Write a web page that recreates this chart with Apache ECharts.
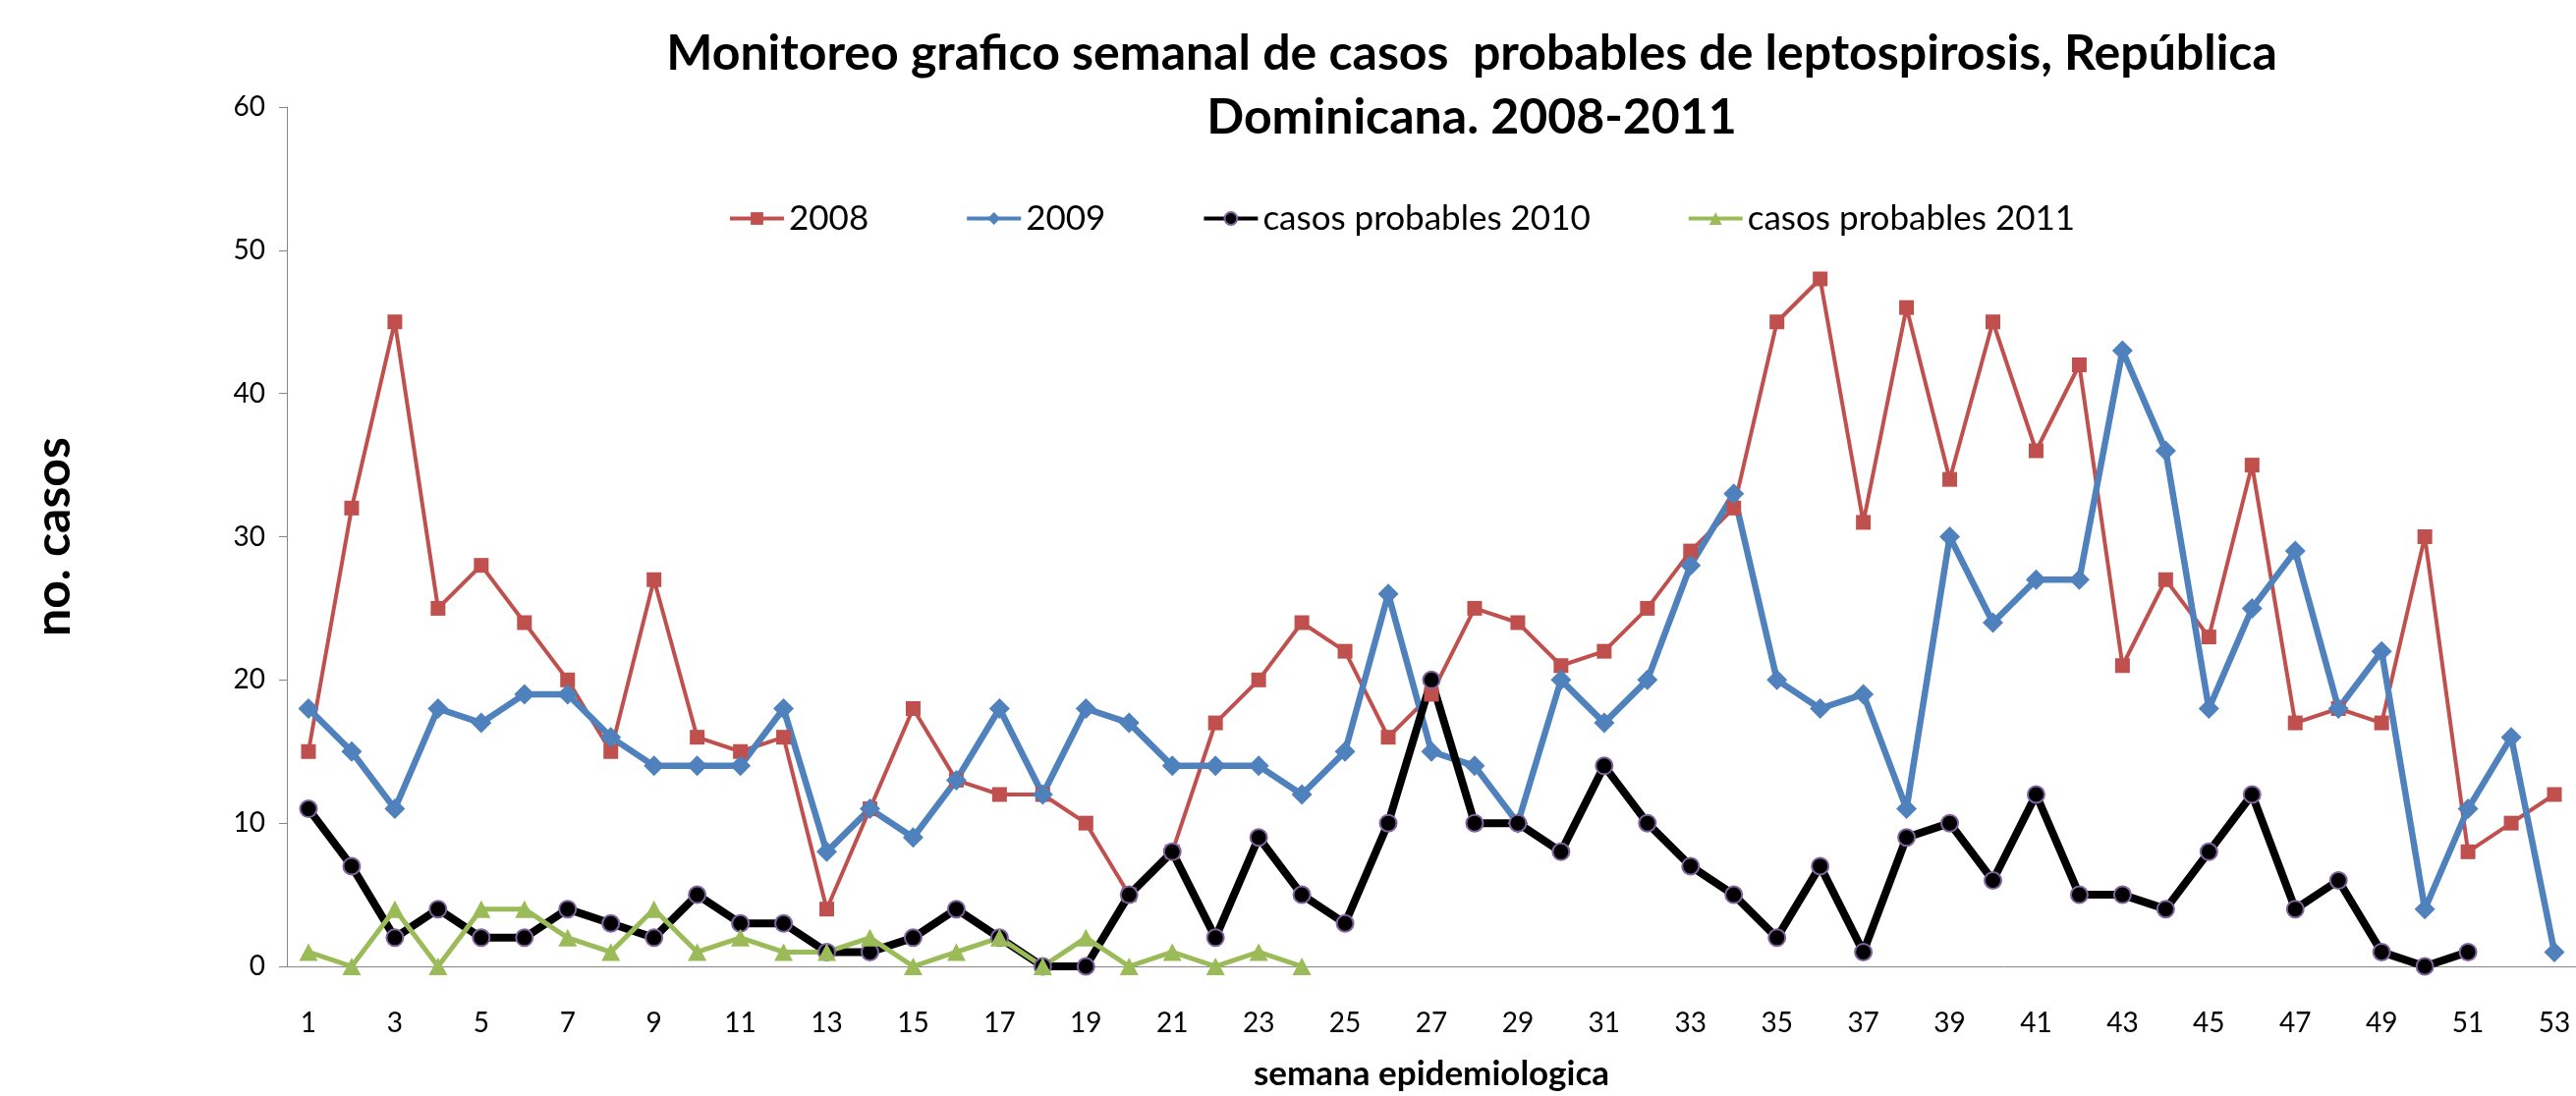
<!DOCTYPE html>
<html>
<head>
<meta charset="utf-8">
<script src="https://cdn.jsdelivr.net/npm/echarts@6/dist/echarts.min.js"></script>
<style>
  html, body { margin: 0; padding: 0; background: #fff; }
  #grafico { width: 2622px; height: 1116px; }
</style>
</head>
<body>
<div id="grafico"></div>
<script>
// semanas epidemiologicas 1..53
var semanas = [];
for (var i = 1; i <= 53; i++) semanas.push(String(i));

var casos2008 = [15, 32, 45, 25, 28, 24, 20, 15, 27, 16, 15, 16, 4, 11, 18, 13, 12, 12, 10, 5,
    8, 17, 20, 24, 22, 16, 19, 25, 24, 21, 22, 25, 29, 32, 45, 48, 31, 46, 34, 45,
    36, 42, 21, 27, 23, 35, 17, 18, 17, 30, 8, 10, 12];
var casos2009 = [18, 15, 11, 18, 17, 19, 19, 16, 14, 14, 14, 18, 8, 11, 9, 13, 18, 12, 18, 17,
    14, 14, 14, 12, 15, 26, 15, 14, 10, 20, 17, 20, 28, 33, 20, 18, 19, 11, 30, 24,
    27, 27, 43, 36, 18, 25, 29, 18, 22, 4, 11, 16, 1];
var casos2010 = [11, 7, 2, 4, 2, 2, 4, 3, 2, 5, 3, 3, 1, 1, 2, 4, 2, 0, 0, 5,
    8, 2, 9, 5, 3, 10, 20, 10, 10, 8, 14, 10, 7, 5, 2, 7, 1, 9, 10, 6,
    12, 5, 5, 4, 8, 12, 4, 6, 1, 0, 1];
var casos2011 = [1, 0, 4, 0, 4, 4, 2, 1, 4, 1, 2, 1, 1, 2, 0, 1, 2, 0, 2, 0, 1, 0, 1, 0];

var fuente = 'Lato, "Open Sans", sans-serif';

var myChart = echarts.init(document.getElementById('grafico'));

var option = {
    backgroundColor: '#ffffff',
    animation: false,
    textStyle: { fontFamily: fuente, color: '#000' },
    title: {
        text: 'Monitoreo grafico semanal de casos  probables de leptospirosis, República\nDominicana. 2008-2011',
        left: 1493,
        top: 17,
        textAlign: 'center',
        textStyle: {
            fontFamily: fuente,
            fontSize: 50,
            fontWeight: 'bold',
            color: '#000',
            lineHeight: 65
        }
    },
    legend: {
        left: 736,
        top: 200,
        itemGap: 98,
        itemWidth: 55,
        itemHeight: 16,
        lineStyle: { width: 4 },
        textStyle: { fontFamily: fuente, fontSize: 35, color: '#000' },
        data: ['2008', '2009', 'casos probables 2010', 'casos probables 2011']
    },
    grid: {
        left: 292,
        top: 109,
        width: 2336,
        height: 881
    },
    xAxis: {
        type: 'category',
        data: semanas,
        boundaryGap: true,
        name: 'semana epidemiologica',
        nameLocation: 'middle',
        nameGap: 92,
        nameTextStyle: { fontFamily: fuente, fontSize: 35, fontWeight: 'bold', color: '#000' },
        axisLine: { lineStyle: { color: '#868686', width: 1 } },
        axisTick: { show: false },
        axisLabel: { interval: 1, margin: 44, fontSize: 28, color: '#000', fontFamily: fuente }
    },
    yAxis: {
        type: 'value',
        min: 0,
        max: 60,
        interval: 10,
        name: 'no. casos',
        nameLocation: 'middle',
        nameRotate: 90,
        nameGap: 212,
        nameTextStyle: { fontFamily: fuente, fontSize: 50, fontWeight: 'bold', color: '#000' },
        axisLine: { show: true, lineStyle: { color: '#868686', width: 1 } },
        axisTick: { show: true, length: 8, lineStyle: { color: '#868686' } },
        splitLine: { show: false },
        axisLabel: { margin: 22, fontSize: 28, color: '#000', fontFamily: fuente }
    },
    series: [
        {
            name: '2008',
            type: 'line',
            data: casos2008,
            symbol: 'rect',
            symbolSize: 15,
            showAllSymbol: true,
            itemStyle: { color: '#C0504D' },
            lineStyle: { color: '#C0504D', width: 4 }
        },
        {
            name: '2009',
            type: 'line',
            data: casos2009,
            symbol: 'diamond',
            symbolSize: [21, 21],
            showAllSymbol: true,
            itemStyle: { color: '#4F81BD' },
            lineStyle: { color: '#4F81BD', width: 6.5 }
        },
        {
            name: 'casos probables 2010',
            type: 'line',
            data: casos2010,
            symbol: 'circle',
            symbolSize: 17,
            showAllSymbol: true,
            itemStyle: { color: '#000000', borderColor: '#8064A2', borderWidth: 2 },
            lineStyle: { color: '#000000', width: 8 }
        },
        {
            name: 'casos probables 2011',
            type: 'line',
            data: casos2011,
            symbol: 'triangle',
            symbolSize: [19, 18],
            showAllSymbol: true,
            itemStyle: { color: '#9BBB59' },
            lineStyle: { color: '#9BBB59', width: 5 }
        }
    ]
};

myChart.setOption(option);
</script>
</body>
</html>
